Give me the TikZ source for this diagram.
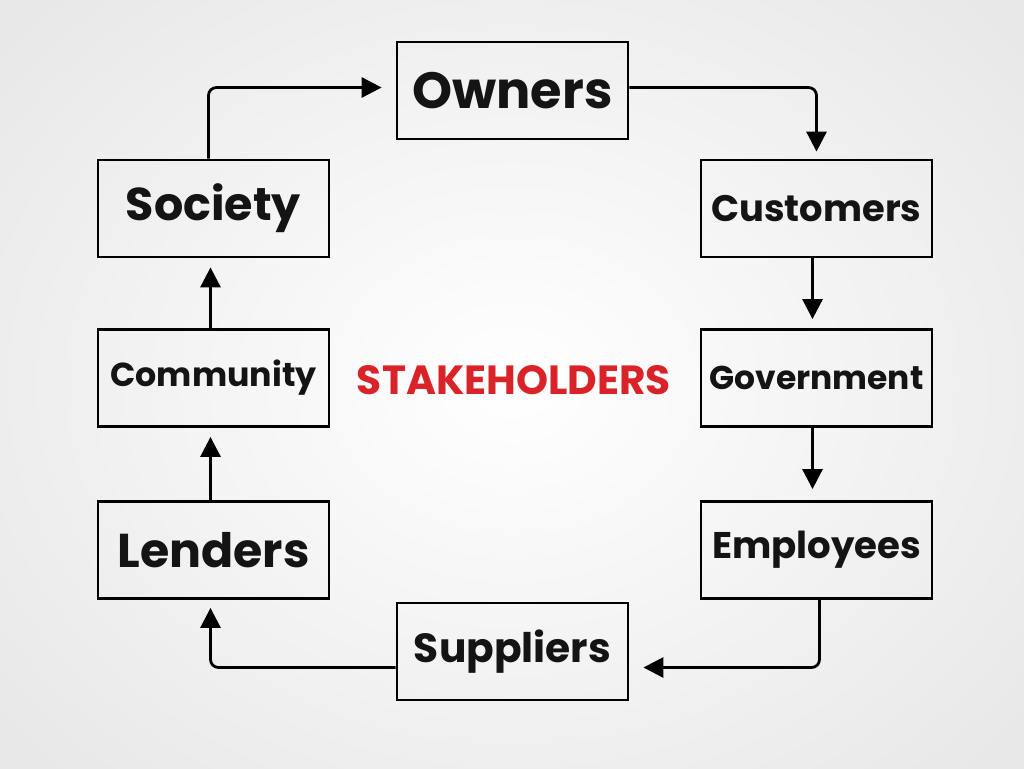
\documentclass[tikz,border=0pt]{standalone}
\usepackage{fontspec}
\setmainfont{Poppins}
\usetikzlibrary{arrows.meta,calc}
\newcommand{\fitw}[2]{\resizebox{#1pt}{!}{#2}}
\definecolor{hred}{RGB}{218,35,40}
\begin{document}
\begin{tikzpicture}[x=1pt,y=-1pt,
  boxstyle/.style={draw=black,line width=2.8pt,minimum width=231pt,minimum height=97pt,inner sep=0pt},
  arr/.style={line width=2.8pt,rounded corners=8pt,-{Triangle[width=20pt,length=20pt]}},
  lbl/.style={font=\bfseries,text=black!92}]
\useasboundingbox (0,0) rectangle (1024,768);
\shade[inner color=white,outer color=black!9] (-150,-150) rectangle (1174,918);
\node[boxstyle,lbl] (owners) at (512.5,90.5) {\fitw{200}{Owners}};
\node[boxstyle,lbl] (society) at (213.5,208.5) {\fitw{175}{Society}};
\node[boxstyle,lbl] (customers) at (816.5,208.5) {\fitw{210}{Customers}};
\node[boxstyle,lbl] (community) at (213.5,378) {\fitw{206}{Community}};
\node[boxstyle,lbl] (government) at (816.5,378) {\fitw{214}{Government}};
\node[boxstyle,lbl] (lenders) at (213.5,550) {\fitw{192}{Lenders}};
\node[boxstyle,lbl] (employees) at (816.5,550) {\fitw{209}{Employees}};
\node[boxstyle,lbl] (suppliers) at (512.5,651.5) {\fitw{197}{Suppliers}};
\node[font=\bfseries,text=hred] (stake) at (514,380) {\fitw{314}{STAKEHOLDERS}};
\draw[arr,shorten >=14pt] ([xshift=-5pt]society.north) |- ([yshift=3pt]owners.west);
\draw[arr,shorten >=7pt] ([yshift=3pt]owners.east) -| (customers.north);
\draw[arr,shorten >=9pt] ([xshift=-4pt]customers.south) -- ([xshift=-4pt]government.north);
\draw[arr,shorten >=11pt] ([xshift=-4pt]government.south) -- ([xshift=-4pt]employees.north);
\draw[arr,shorten >=14pt] ([xshift=3pt]employees.south) |- ($(suppliers.east)+(0,16)$);
\draw[arr,shorten >=8pt] ($(suppliers.west)+(0,16)$) -| ([xshift=-3pt]lenders.south);
\draw[arr,shorten >=9pt] ([xshift=-3pt]lenders.north) -- ([xshift=-3pt]community.south);
\draw[arr,shorten >=9pt] ([xshift=-3pt]community.north) -- ([xshift=-3pt]society.south);
\end{tikzpicture}
\end{document}
